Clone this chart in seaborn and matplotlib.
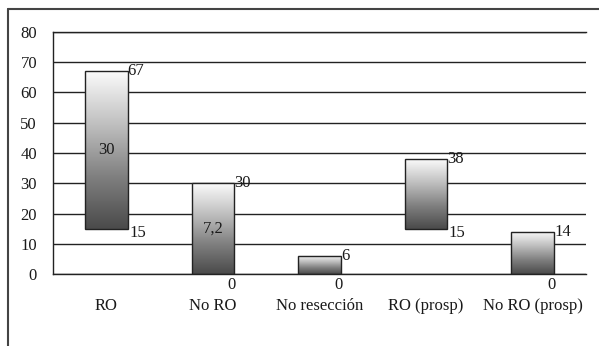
import numpy as np
import pandas as pd
import matplotlib
matplotlib.use("Agg")
import matplotlib.pyplot as plt
import seaborn as sns
from matplotlib.colors import LinearSegmentedColormap
from matplotlib.lines import Line2D

categories = ["RO", "No RO", "No resección", "RO (prosp)", "No RO (prosp)"]
low = [15, 0, 0, 15, 0]
high = [67, 30, 6, 38, 14]
mid_labels = ["30", "7,2", "", "", ""]
high_labels = ["67", "30", "6", "38", "14"]
low_labels = ["15", "0", "0", "15", "0"]
yticks = [0, 10, 20, 30, 40, 50, 60, 70, 80]

sns.set_theme(style="white")
plt.rcParams['font.family'] = ['Liberation Serif', 'DejaVu Serif']
FS = 12
LC = "#222222"
TC = "#1a1a1a"

fig = plt.figure(figsize=(5.99, 3.46), dpi=100)
fig.patch.set_facecolor("white")
ax = fig.add_axes([53/599, 72/346, 533/599, 242/346])

df = pd.DataFrame({"cat": categories,
                   "span": np.array(high) - np.array(low),
                   "low": low})
sns.barplot(data=df, x="cat", y="span", bottom=df["low"].values, width=0.4,
            ax=ax, color="#888888", saturation=1, facecolor="none",
            edgecolor=LC, linewidth=1.0, zorder=3)

cmap = LinearSegmentedColormap.from_list("g", ["#fbfbfb", "#c0c0c0", "#808080", "#4a4a4a"])
grad = np.linspace(0, 1, 256).reshape(-1, 1)
for i, p in enumerate(ax.patches):
    x0, y0 = p.get_x(), p.get_y()
    w, h = p.get_width(), p.get_height()
    ax.imshow(grad, extent=[x0, x0 + w, y0, y0 + h], origin="upper",
              cmap=cmap, aspect="auto", zorder=2, interpolation="bilinear")
    ax.text(x0 + w, high[i], high_labels[i], ha="left", va="center",
            fontsize=FS, color=TC, zorder=5)
    if low[i] > 0:
        ax.annotate(low_labels[i], (x0 + w, low[i]), xytext=(1, -3),
                    textcoords="offset points", ha="left", va="center",
                    fontsize=FS, color=TC, zorder=5)
    else:
        ax.annotate(low_labels[i], (x0 + w, 0), xytext=(-2, -2),
                    textcoords="offset points", ha="center", va="top",
                    fontsize=FS, color=TC, zorder=5, annotation_clip=False)
    if mid_labels[i]:
        ax.text(x0 + w / 2, (low[i] + high[i]) / 2, mid_labels[i],
                ha="center", va="center", fontsize=FS, color=TC, zorder=5)

ax.set_xlim(-0.5, 4.5)
ax.set_ylim(0, 80)
ax.set_yticks(yticks)
ax.set_yticklabels([str(t) for t in yticks])
ax.yaxis.grid(True, color=LC, linewidth=1.0, zorder=1)
ax.set_axisbelow(True)
ax.set_xlabel("")
ax.set_ylabel("")
ax.tick_params(axis="x", length=0, pad=17, labelsize=FS, colors=TC)
ax.tick_params(axis="y", length=0, pad=11.5, labelsize=FS, colors=TC)
for s in ["left", "top", "bottom"]:
    ax.spines[s].set_visible(True)
    ax.spines[s].set_color(LC)
    ax.spines[s].set_linewidth(1.0)
ax.spines["right"].set_visible(False)

fig.add_artist(Line2D([8/599, 1], [1 - 9/346, 1 - 9/346], color="#444444", linewidth=1.5))
fig.add_artist(Line2D([8/599, 8/599], [0, 1 - 9/346], color="#444444", linewidth=1.5))

fig.savefig("out.png", dpi=100, facecolor="white")
